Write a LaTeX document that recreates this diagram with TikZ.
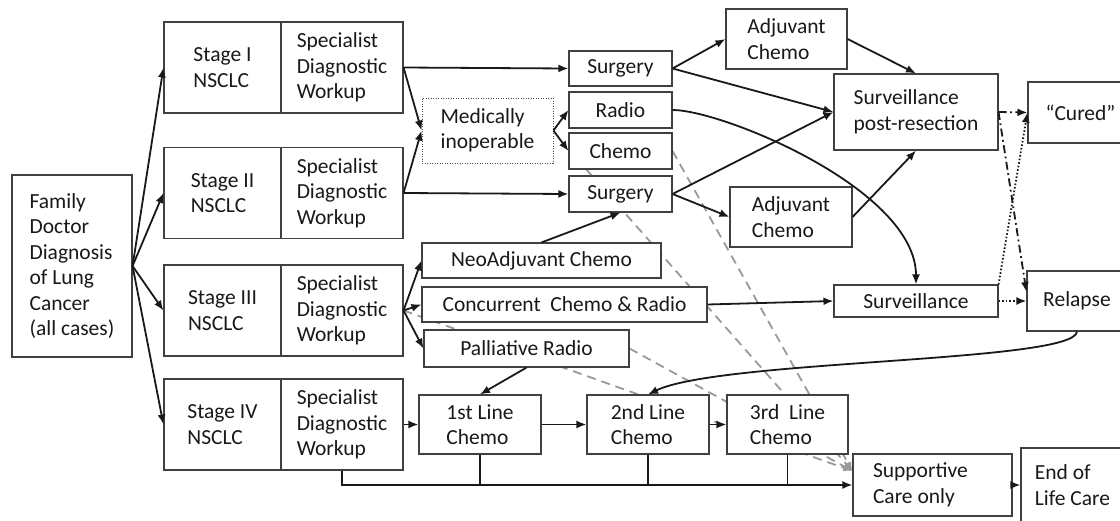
\documentclass[tikz,border=0pt]{standalone}
\usepackage{fontspec}
\setmainfont{Carlito}
\usetikzlibrary{arrows.meta}
\usetikzlibrary{backgrounds}

\begin{document}
\begin{tikzpicture}[x=1pt,y=-1pt,
  box/.style={draw=black!75,fill=white,line width=1.1pt,inner sep=0pt,align=left,
    font=\fontsize{21.5}{25.5}\selectfont,text=black!90},
  arr/.style={line width=1.8pt,draw=black!90,-{Latex[length=10pt,width=8pt]}},
  link/.style={line width=1.8pt,draw=black!90},
  dashdot/.style={arr,dash pattern=on 8pt off 3.5pt on 1.8pt off 3.5pt},
  dots/.style={arr,dash pattern=on 1.6pt off 2pt},
  tosupp/.style={line width=1.8pt,draw=black!40,dash pattern=on 9pt off 6pt,
    -{Latex[length=9pt,width=7pt]}}]
  \useasboundingbox (0,0) rectangle (1120,520);
  \clip (0,0) rectangle (1120,520);
  \node [box,minimum width=120,minimum height=182] (fam) at (72,266) {Family\\Doctor\\Diagnosis\\of Lung\\Cancer\\(all cases)};
  \node [box,minimum width=117,minimum height=91] (s1) at (222.5,67.5) {Stage I\\NSCLC};
  \node [box,minimum width=122,minimum height=91] (w1) at (342,67.5) {Specialist\\Diagnostic\\Workup};
  \node [box,minimum width=117,minimum height=91] (s2) at (222.5,193) {Stage II\\NSCLC};
  \node [box,minimum width=122,minimum height=91] (w2) at (342,193) {Specialist\\Diagnostic\\Workup};
  \node [box,minimum width=117,minimum height=91] (s3) at (222.5,310.5) {Stage III\\NSCLC};
  \node [box,minimum width=122,minimum height=91] (w3) at (342,310.5) {Specialist\\Diagnostic\\Workup};
  \node [box,minimum width=117,minimum height=91] (s4) at (222.5,424.5) {Stage IV\\NSCLC};
  \node [box,minimum width=122,minimum height=91] (w4) at (342,424.5) {Specialist\\Diagnostic\\Workup};
  \node [box,draw=black!70,line width=0.9pt,dash pattern=on 1pt off 1.5pt,minimum width=131,minimum height=65] (med) at (487.5,130.5) {Medically\\inoperable};
  \node [box,minimum width=103,minimum height=35] (surg1) at (620.5,68.5) {Surgery};
  \node [box,minimum width=103,minimum height=36] (radio) at (620.5,110) {Radio};
  \node [box,minimum width=103,minimum height=36] (chemo) at (620.5,151) {Chemo};
  \node [box,minimum width=103,minimum height=36] (surg2) at (620.5,194) {Surgery};
  \node [box,minimum width=121,minimum height=60] (adj1) at (786.5,39) {Adjuvant\\Chemo};
  \node [box,minimum width=122,minimum height=60] (adj2) at (791,217) {Adjuvant\\Chemo};
  \node [box,minimum width=164,minimum height=76] (spr) at (916,112) {Surveillance\\post-resection};
  \node [box,minimum width=105,minimum height=61] (cured) at (1080.5,112.5) {“Cured”};
  \node [box,minimum width=239,minimum height=35] (neo) at (541.5,260.5) {NeoAdjuvant Chemo};
  \node [box,minimum width=285,minimum height=35] (conc) at (564.5,304.5) {Concurrent\ \ Chemo \& Radio};
  \node [box,minimum width=205,minimum height=37] (pall) at (526.5,348.5) {Palliative Radio};
  \node [box,minimum width=122,minimum height=59] (l1) at (480,424.5) {1st Line\\Chemo};
  \node [box,minimum width=122,minimum height=59] (l2) at (648,424.5) {2nd Line\\Chemo};
  \node [box,minimum width=121,minimum height=59] (l3) at (787.5,424.5) {3rd\ \ Line\\Chemo};
  \node [box,minimum width=164,minimum height=32] (surv) at (916,301) {Surveillance};
  \node [box,minimum width=100,minimum height=60] (rel) at (1077,301) {Relapse};
  \node [box,align=flush left,text width=119,minimum width=159,minimum height=62] (supp) at (932.5,485) {Supportive\\Care only};
  \node [box,minimum width=103,minimum height=74] (eolc) at (1072.5,485) {End of\\Life Care};
  % routes to supportive care only
  \begin{pgfonlayer}{background}
    \draw [tosupp] (chemo.east) -- ([yshift=14pt]supp.west);
    \draw [tosupp] ([xshift=18pt]chemo.south west) -- ([yshift=14pt]supp.west);
    \draw [tosupp] (pall.east) -- ([yshift=14pt]supp.west);
    \draw [tosupp] (w3.east) -- ([yshift=14pt]supp.west);
  \end{pgfonlayer}
  \draw [arr] (fam.east) -- (s1.west);
  \draw [arr] (fam.east) -- (s2.west);
  \draw [arr] (fam.east) -- (s3.west);
  \draw [arr] (fam.east) -- (s4.west);
  \draw [arr] (w1.east) -- (surg1.west);
  \draw [arr] (w1.east) -- (med.west);
  \draw [arr] (w2.east) -- (surg2.west);
  \draw [arr] (w2.east) -- (med.west);
  \draw [arr] (med.east) -- (radio.west);
  \draw [arr] (med.east) -- (chemo.west);
  \draw [arr] (surg1.east) -- (adj1.west);
  \draw [arr] (surg1.east) -- (spr.west);
  \draw [arr] (adj1.east) -- (spr.north);
  \draw [arr] (surg2.east) -- (spr.west);
  \draw [arr] (surg2.east) -- (adj2.west);
  \draw [arr] (adj2.east) -- (spr.south);
  \draw [arr] (radio.east) .. controls +(50,0) and +(0,-95) .. (surv.north);
  \draw [arr] (neo.north) -- (surg2.south);
  \draw [arr] (w3.east) -- (neo.west);
  \draw [arr] (w3.east) -- (conc.west);
  \draw [arr] (w3.east) -- (pall.west);
  \draw [arr] (conc.east) -- (surv.west);
  \draw [arr] (pall.south) -- (l1.north);
  \draw [arr] (w4.east) -- (l1.west);
  \draw [arr] (l1.east) -- (l2.west);
  \draw [arr] (l2.east) -- (l3.west);
  \draw [arr] (rel.south) .. controls +(-2,31) and +(72,-35) .. (l2.north);
  \draw [arr] (w4.south) |- (supp.west);
  \draw [link] (l1.south) -- (l1.south |- supp.west);
  \draw [link] (l2.south) -- (l2.south |- supp.west);
  \draw [link] (l3.south) -- (l3.south |- supp.west);
  \draw [arr] (supp.east) -- (eolc.west);
  \draw [dashdot] (spr.east) -- (cured.west);
  \draw [dashdot] (spr.east) -- ([yshift=9pt]rel.west);
  \draw [dots] (surv.east) -- (rel.west);
  \draw [dots] (surv.north east) -- (cured.west);
  % \draw [arr] (surv.south) -- (supp.north);
\end{tikzpicture}
\end{document}
